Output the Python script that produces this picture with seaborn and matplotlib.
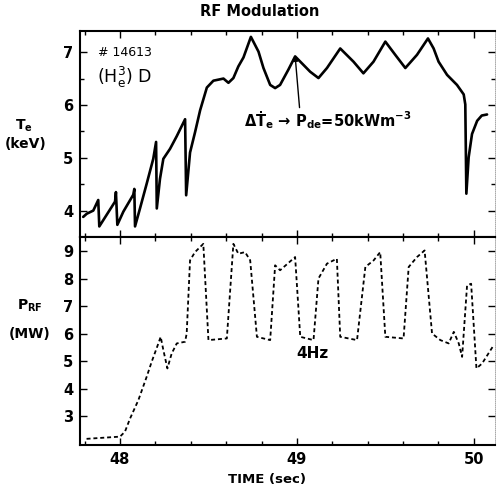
import matplotlib
matplotlib.use("Agg")
import matplotlib.pyplot as plt
import numpy as np
import pandas as pd
import seaborn as sns

# Electron temperature trace, shot 14613
te_time = [47.792, 47.812, 47.849, 47.877, 47.883, 47.972, 47.977, 47.985, 48.019,
           48.075, 48.081, 48.085, 48.113, 48.151, 48.188, 48.204, 48.208, 48.226,
           48.245, 48.283, 48.321, 48.340, 48.368, 48.374, 48.396, 48.424, 48.453,
           48.491, 48.528, 48.585, 48.613, 48.641, 48.669, 48.698, 48.740, 48.783,
           48.811, 48.849, 48.877, 48.905, 48.952, 48.990, 49.037, 49.075, 49.122,
           49.170, 49.245, 49.320, 49.376, 49.433, 49.500, 49.556, 49.613, 49.679,
           49.741, 49.773, 49.801, 49.849, 49.905, 49.943, 49.952, 49.958, 49.971,
           49.990, 50.019, 50.045, 50.075]
te_kev = [3.88, 3.94, 4.00, 4.20, 3.70, 4.17, 4.35, 3.73, 3.98,
          4.30, 4.41, 3.70, 4.04, 4.51, 4.98, 5.30, 4.04, 4.60,
          4.98, 5.17, 5.41, 5.54, 5.73, 4.29, 5.10, 5.48, 5.90,
          6.33, 6.46, 6.50, 6.42, 6.51, 6.73, 6.90, 7.29, 7.01,
          6.70, 6.38, 6.32, 6.38, 6.67, 6.92, 6.76, 6.63, 6.51,
          6.70, 7.07, 6.82, 6.60, 6.82, 7.20, 6.95, 6.70, 6.95,
          7.26, 7.07, 6.82, 6.57, 6.38, 6.20, 6.01, 4.32, 5.01,
          5.45, 5.70, 5.80, 5.82]

# RF power waveform (4 Hz modulation)
rf_time = [47.811, 48.000, 48.028, 48.057, 48.104, 48.151, 48.179, 48.217, 48.230,
           48.245, 48.268, 48.292, 48.321, 48.368, 48.377, 48.396, 48.424, 48.471,
           48.500, 48.604, 48.641, 48.669, 48.707, 48.736, 48.774, 48.849, 48.877,
           48.905, 48.990, 49.019, 49.094, 49.122, 49.170, 49.226, 49.245, 49.340,
           49.387, 49.434, 49.471, 49.500, 49.603, 49.632, 49.679, 49.722, 49.764,
           49.811, 49.858, 49.887, 49.915, 49.934, 49.962, 49.985, 50.015, 50.047,
           50.113]
rf_mw = [2.17, 2.25, 2.43, 2.91, 3.58, 4.43, 4.97, 5.64, 5.88,
         5.40, 4.73, 5.27, 5.64, 5.70, 6.00, 8.66, 8.96, 9.26,
         5.76, 5.82, 9.26, 8.90, 8.96, 8.66, 5.88, 5.76, 8.48,
         8.30, 8.78, 5.88, 5.76, 8.00, 8.54, 8.72, 5.88, 5.76,
         8.42, 8.66, 8.96, 5.88, 5.82, 8.42, 8.78, 9.02, 6.00,
         5.76, 5.64, 6.06, 5.64, 5.15, 7.75, 7.81, 4.73, 4.91,
         5.58]

te_ticks = [4, 5, 6, 7]
rf_ticks = [3, 4, 5, 6, 7, 8, 9]
time_ticks = [48, 49, 50]

te_df = pd.DataFrame({"time": te_time, "Te": te_kev})
rf_df = pd.DataFrame({"time": rf_time, "Prf": rf_mw})

sns.set_style("ticks")
plt.rcParams["font.family"] = ["DejaVu Sans"]
plt.rcParams["font.weight"] = "bold"
plt.rcParams["mathtext.default"] = "regular"
plt.rcParams["text.color"] = "black"
plt.rcParams["axes.labelcolor"] = "black"
plt.rcParams["xtick.color"] = "black"
plt.rcParams["ytick.color"] = "black"

fig = plt.figure(figsize=(4.97, 5.01), dpi=100)
ax1 = fig.add_axes([0.161, 0.527, 0.835, 0.411])
ax2 = fig.add_axes([0.161, 0.112, 0.835, 0.415], sharex=ax1)

sns.lineplot(data=te_df, x="time", y="Te", ax=ax1, color="black", lw=1.9,
             sort=False, estimator=None)
sns.lineplot(data=rf_df, x="time", y="Prf", ax=ax2, color="black", lw=1.3,
             sort=False, estimator=None, linestyle=(0, (2.2, 1.6)))

xlim = (47.774, 50.12)
ax1.set_xlim(*xlim)
ax1.set_ylim(3.53, 7.40)
ax2.set_ylim(1.95, 9.51)

for ax in (ax1, ax2):
    ax.set_xlabel("")
    ax.set_ylabel("")
    for s in ("left", "top", "bottom"):
        ax.spines[s].set_linewidth(1.5)
        ax.spines[s].set_color("black")
    ax.spines["right"].set_color("#9a9a9a")
    ax.spines["right"].set_linewidth(0.6)
    ax.spines["right"].set_linestyle((0, (1, 1.5)))
    ax.set_xticks(time_ticks)
    ax.set_xticks(np.arange(47.8, 50.11, 0.2), minor=True)
    ax.tick_params(axis="both", which="both", direction="in", top=True, right=True,
                   labelsize=10.5, pad=5, width=1.0, colors="black")
    ax.tick_params(which="major", length=5)
    ax.tick_params(which="minor", length=3)

ax1.set_yticks(te_ticks)
ax1.set_yticks(np.arange(3.5, 7.41, 0.5), minor=True)
ax2.set_yticks(rf_ticks)
ax1.tick_params(axis="x", labelbottom=False)
ax2.set_xticks(time_ticks)
ax2.set_xticklabels([str(t) for t in time_ticks])

for lbl in ax1.get_yticklabels() + ax2.get_yticklabels() + ax2.get_xticklabels():
    lbl.set_fontweight("bold")

# Annotations inside the temperature panel
ax1.text(47.875, 7.0, "# 14613", fontsize=9, fontweight="normal", color="black",
         va="center", ha="left")
ax1.text(47.872, 6.52, r"(H$_\mathregular{e}^\mathregular{3}$) D", fontsize=12.5,
         fontweight="normal", color="black", va="center", ha="left")
ax1.text(48.70, 5.71, "ΔṪ$_\\mathregular{e}$ → P$_\\mathregular{de}$=50kWm$^\\mathregular{-3}$",
         fontsize=10.5, color="black", va="center", ha="left")
ax1.annotate("", xy=(48.99, 6.93), xytext=(49.015, 5.95),
             arrowprops=dict(arrowstyle="-|>", lw=1.0, color="black",
                             mutation_scale=7, shrinkA=0, shrinkB=0))
ax2.text(49.09, 5.26, "4Hz", fontsize=11, color="black", va="center", ha="center")

# Panel labels and titles
fig.text(0.048, 0.748, r"T$_\mathregular{e}$", fontsize=10, ha="center", va="center")
fig.text(0.052, 0.712, "(keV)", fontsize=10, ha="center", va="center")
fig.text(0.060, 0.389, r"P$_\mathregular{RF}$", fontsize=10, ha="center", va="center")
fig.text(0.060, 0.333, "(MW)", fontsize=10, ha="center", va="center")
fig.text(0.523, 0.978, "RF Modulation", fontsize=10.5, ha="center", va="center")
fig.text(0.537, 0.042, "TIME (sec)", fontsize=9.5, ha="center", va="center")

fig.savefig("out.png", dpi=100)
